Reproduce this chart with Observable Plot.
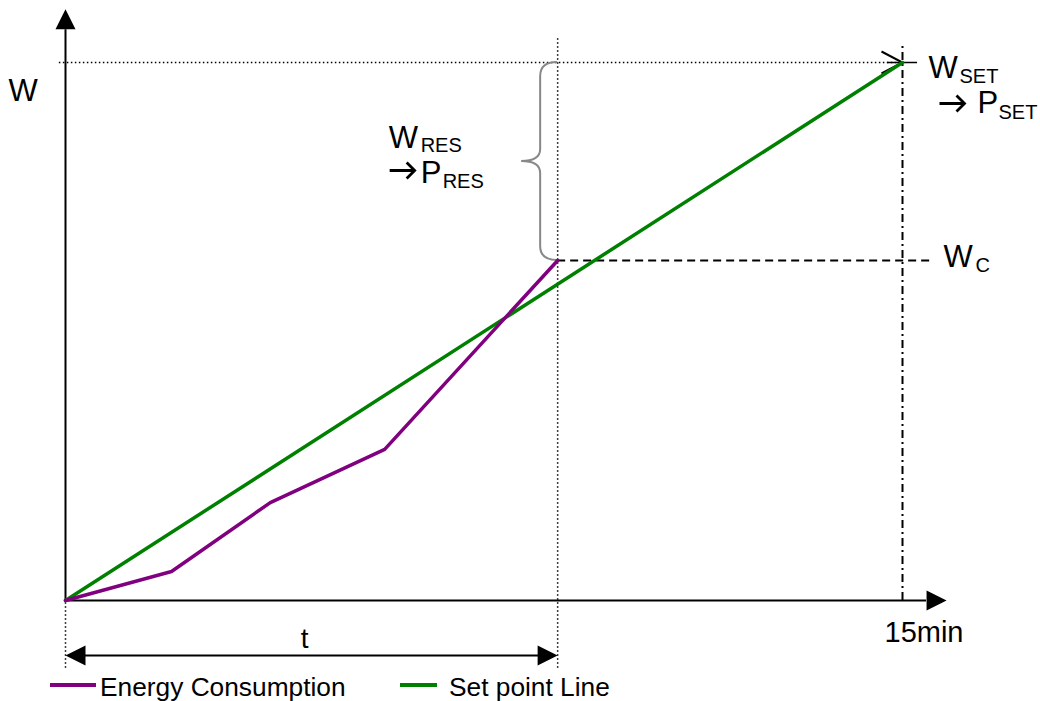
<!DOCTYPE html>
<html>
<head>
<meta charset="utf-8">
<script src="https://cdn.jsdelivr.net/npm/d3@7"></script>
<script src="https://cdn.jsdelivr.net/npm/@observablehq/plot@0.6"></script>
<style>
html, body { margin: 0; padding: 0; background: #fff; overflow: hidden; }
#wrap { position: relative; width: 1040px; height: 701px; font-family: "Liberation Sans", Arial, sans-serif; }
#legend { position: absolute; left: 0; top: 672px; width: 1040px; height: 29px; }
.sw { position: absolute; height: 4px; top: 11px; }
.lt { position: absolute; top: 2px; font-size: 26.3px; line-height: 26.3px; color: #000; white-space: nowrap; }
</style>
</head>
<body>
<div id="wrap"><div id="chart"></div><div id="legend"></div></div>
<script>
// ---- data ----
const energyTime = [0, 1.9, 3.67, 5.72, 8.82];     // minutes
const energyW    = [0, 5.4, 18.2, 28.1, 63.2];     // energy (relative units)
const setTime    = [0, 15];
const setW       = [0, 100];
const seriesNames = ["Energy Consumption", "Set point Line"];
const xTickLabel = "15min";
const yAxisLabel = "W";

// key annotation values
const period = 15;          // end of the 15 min interval
const wSet = 100;           // W_SET
const tNow = energyTime[energyTime.length - 1];
const wC = energyW[energyW.length - 1];

const energyColor = "#800080";
const setColor = "#008000";

const energy = energyTime.map((t, i) => ({t, w: energyW[i]}));
const setLine = setTime.map((t, i) => ({t, w: setW[i]}));

// extents of the decorative guides (data units)
const yAxisBase = 106.1, yAxisTip = 109.9;
const xAxisBase = 15.43, xAxisTip = 15.79;
const belowAxis = -12.6;
const tLevel = -10.2;

// arrowhead symbols (tip at the anchor point)
const headUp = {draw(c) { c.moveTo(0, 0); c.lineTo(-10, 20); c.lineTo(10, 20); c.closePath(); }};
const headRight = {draw(c) { c.moveTo(0, 0); c.lineTo(-20, -10); c.lineTo(-20, 10); c.closePath(); }};
const headLeft = {draw(c) { c.moveTo(0, 0); c.lineTo(20, -10); c.lineTo(20, 10); c.closePath(); }};
const headOpen = {draw(c) { c.moveTo(-21, -11); c.lineTo(0, 0); c.lineTo(-21, 11); }};
// text-style "implies" arrow (starts at the anchor point)
const impliesArrow = {draw(c) { c.moveTo(0, 0); c.lineTo(25, 0); c.moveTo(17, -8); c.lineTo(25, 0); c.lineTo(17, 8); }};

function label(t, xv, yv, dx, dy, size, extra = {}) {
  return Plot.text([{xv, yv, t}], {
    x: "xv", y: "yv", text: "t", dx, dy, fontSize: size,
    textAnchor: "start", lineAnchor: "bottom", fill: "black", ...extra
  });
}
function implies(xv, yv, dx, dy) {
  return Plot.dot([{xv, yv}], {x: "xv", y: "yv", dx, dy, symbol: impliesArrow,
    fill: "none", stroke: "black", strokeWidth: 2.8});
}

function brace(index, scales) {
  const x = scales.x, y = scales.y;
  const px = x(tNow), top = y(wSet), bot = y(wC), mid = (top + bot) / 2;
  const w = 17, tip = 36;
  const d = `M${px},${top} Q${px - w},${top} ${px - w},${top + 14} L${px - w},${mid - 12} ` +
            `Q${px - w},${mid} ${px - tip},${mid} Q${px - w},${mid} ${px - w},${mid + 12} ` +
            `L${px - w},${bot - 14} Q${px - w},${bot} ${px},${bot}`;
  return d3.create("svg:path").attr("d", d).attr("fill", "none")
    .attr("stroke", "#888").attr("stroke-width", 2).node();
}

const chart = Plot.plot({
  width: 1040,
  height: 672,
  marginLeft: 65,
  marginRight: 138,
  marginTop: 62,
  marginBottom: 72,
  x: {domain: [0, period], axis: null},
  y: {domain: [0, wSet], axis: null},
  style: {fontFamily: "'Liberation Sans', Arial, sans-serif", background: "white", overflow: "visible"},
  marks: [
    // guides
    Plot.ruleY([wSet], {x1: -0.11, x2: period, stroke: "black", strokeWidth: 1.5, strokeDasharray: "1.5,2.5"}),
    Plot.ruleY([wSet], {x1: 14.73, x2: 15.27, stroke: "black", strokeWidth: 1.5}),
    Plot.dot([{t: period, w: wSet}], {x: "t", y: "w", symbol: headOpen, fill: "none", stroke: "black", strokeWidth: 2}),
    Plot.ruleX([tNow], {y1: belowAxis, y2: 104.6, stroke: "black", strokeWidth: 1.5, strokeDasharray: "1.5,2.5"}),
    Plot.ruleX([0], {y1: belowAxis, y2: 0, stroke: "black", strokeWidth: 1.5, strokeDasharray: "1.5,2.5"}),
    Plot.ruleX([period], {y1: 0, y2: 103.5, stroke: "black", strokeWidth: 2, strokeDasharray: "8,4,2,4"}),
    Plot.ruleY([wC], {x1: tNow, x2: 15.52, stroke: "black", strokeWidth: 2, strokeDasharray: "8,5"}),
    brace,
    // axes
    Plot.ruleX([0], {y1: 0, y2: yAxisBase, stroke: "black", strokeWidth: 2}),
    Plot.dot([{t: 0, w: yAxisTip}], {x: "t", y: "w", symbol: headUp, fill: "black", stroke: "none"}),
    Plot.ruleY([0], {x1: 0, x2: xAxisBase, stroke: "black", strokeWidth: 2}),
    Plot.dot([{t: xAxisTip, w: 0}], {x: "t", y: "w", symbol: headRight, fill: "black", stroke: "none"}),
    // t interval arrow
    Plot.ruleY([tLevel], {x1: 0.2, x2: tNow - 0.2, stroke: "black", strokeWidth: 2}),
    Plot.dot([{t: 0, w: tLevel}], {x: "t", y: "w", symbol: headLeft, fill: "black", stroke: "none"}),
    Plot.dot([{t: tNow, w: tLevel}], {x: "t", y: "w", symbol: headRight, fill: "black", stroke: "none"}),
    // series
    Plot.line(setLine, {x: "t", y: "w", stroke: setColor, strokeWidth: 3.5}),
    Plot.line(energy, {x: "t", y: "w", stroke: energyColor, strokeWidth: 3.5, strokeLinejoin: "miter"}),
    // labels
    label(yAxisLabel, 0, wSet, -57, 38, 31),
    label("W", tNow, wSet, -169, 85, 31),
    label("RES", tNow, wSet, -137, 89, 20),
    implies(tNow, wSet, -168, 108),
    label("P", tNow, wSet, -137, 120, 31),
    label("RES", tNow, wSet, -115, 125, 20),
    label("W", period, wSet, 26, 15, 31),
    label("SET", period, wSet, 57, 20, 20),
    implies(period, wSet, 37, 41),
    label("P", period, wSet, 75, 50, 31),
    label("SET", period, wSet, 96, 56, 20),
    label("W", period, wC, 41, 7, 31),
    label("C", period, wC, 73, 12, 20),
    label("t", tNow / 2, 0, -7, 47, 28, {textAnchor: "middle"}),
    label(xTickLabel, period, 0, -18, 41, 29)
  ]
});
document.getElementById("chart").appendChild(chart);

// legend below the chart
const legend = document.getElementById("legend");
const legendLayout = [
  {sw: [50, 46], tx: 100, color: energyColor},
  {sw: [400, 37], tx: 449, color: setColor}
];
seriesNames.forEach((name, i) => {
  const L = legendLayout[i];
  const s = document.createElement("div");
  s.className = "sw";
  s.style.left = L.sw[0] + "px";
  s.style.width = L.sw[1] + "px";
  s.style.background = L.color;
  legend.appendChild(s);
  const t = document.createElement("div");
  t.className = "lt";
  t.style.left = L.tx + "px";
  t.textContent = name;
  legend.appendChild(t);
});
</script>
</body>
</html>
